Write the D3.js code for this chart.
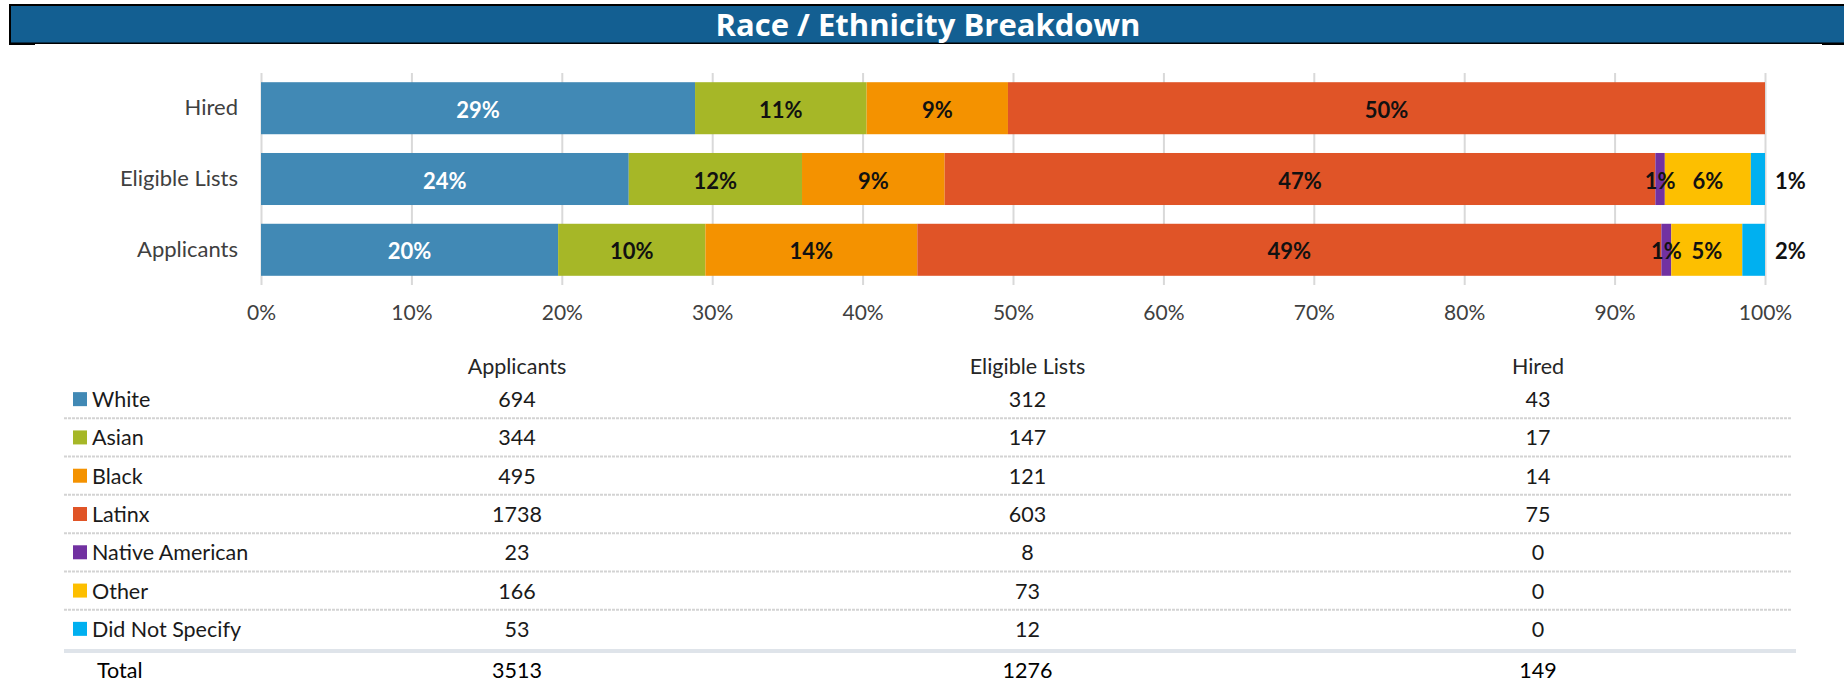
<!DOCTYPE html>
<html>
<head>
<meta charset="utf-8">
<script src="https://cdn.jsdelivr.net/npm/d3@7"></script>
<style>
  html, body { margin: 0; padding: 0; background: #ffffff; }
  svg { display: block; }
  text { font-family: Lato, "Open Sans", sans-serif; }
  text.title { font-family: "Open Sans", Lato, sans-serif; }
</style>
</head>
<body>
<svg id="chart" width="1844" height="684"></svg>
<script>
// Race / ethnicity counts per hiring stage
const groups = ["Applicants", "Eligible Lists", "Hired"];
const races = ["White", "Asian", "Black", "Latinx", "Native American", "Other", "Did Not Specify"];
const applicants = [694, 344, 495, 1738, 23, 166, 53];
const eligibleLists = [312, 147, 121, 603, 8, 73, 12];
const hired = [43, 17, 14, 75, 0, 0, 0];
const totals = [3513, 1276, 149];
const raceColors = ["#4189b5", "#a6b727", "#f49200", "#e05427", "#7131a1", "#fdbf00", "#00b0f0"];
const xTickValues = [0, 0.1, 0.2, 0.3, 0.4, 0.5, 0.6, 0.7, 0.8, 0.9, 1];

const counts = { "Applicants": applicants, "Eligible Lists": eligibleLists, "Hired": hired };
const totalBy = Object.fromEntries(groups.map((g, i) => [g, totals[i]]));

const svg = d3.select("#chart");

// ---- Title banner ----
const banner = svg.append("g");
banner.append("rect").attr("x", 9).attr("y", 4).attr("width", 1840).attr("height", 40).attr("fill", "#000");
banner.append("rect").attr("x", 11).attr("y", 6).attr("width", 1840).attr("height", 36.5).attr("fill", "#135f92");
banner.append("rect").attr("x", 9).attr("y", 43).attr("width", 26).attr("height", 2).attr("fill", "#000");
banner.append("rect").attr("x", 1822).attr("y", 43).attr("width", 22).attr("height", 2).attr("fill", "#000");
banner.append("text")
  .attr("class", "title")
  .attr("x", 928).attr("y", 24)
  .attr("text-anchor", "middle").attr("dominant-baseline", "central")
  .attr("fill", "#fff").attr("font-weight", 700).attr("font-size", 31)
  .text("Race / Ethnicity Breakdown");

// ---- Stacked 100% bars ----
const x = d3.scaleLinear().domain([0, 1]).range([261, 1765]);
const y = d3.scaleBand().domain(["Hired", "Eligible Lists", "Applicants"])
  .range([73, 285]).paddingInner(0.265).paddingOuter(0.13);

// gridlines
svg.append("g")
  .attr("transform", "translate(0,285)")
  .call(d3.axisBottom(x).tickValues(xTickValues).tickSize(-212).tickFormat(""))
  .call(g => g.select(".domain").remove())
  .call(g => g.selectAll(".tick line").attr("stroke", "#d9d9d9").attr("stroke-width", 2));

// tick labels
svg.append("g")
  .attr("transform", "translate(0,305)")
  .call(d3.axisBottom(x).tickValues(xTickValues).tickSize(0).tickPadding(0).tickFormat(d3.format(".0%")))
  .call(g => g.select(".domain").remove())
  .call(g => g.selectAll(".tick text")
    .attr("font-size", 21).attr("fill", "#404040"));

// category labels
svg.append("g")
  .attr("transform", "translate(238,0)")
  .call(d3.axisLeft(y).tickSize(0).tickPadding(0))
  .call(g => g.select(".domain").remove())
  .call(g => g.selectAll(".tick text")
    .attr("font-size", 22).attr("fill", "#404040"));

const stack = d3.stack().keys(d3.range(races.length)).value((g, k) => counts[g][k] / totalBy[g]);
const series = stack(groups);

const segLayer = svg.append("g");
series.forEach((s, k) => {
  segLayer.selectAll(null)
    .data(s.map((d, i) => ({ g: groups[i], x0: d[0], x1: d[1] })))
    .join("rect")
    .attr("x", d => x(d.x0))
    .attr("y", d => y(d.g))
    .attr("width", d => x(d.x1) - x(d.x0))
    .attr("height", y.bandwidth())
    .attr("fill", raceColors[k]);
});

const pct = d3.format(".0%");
const labelLayer = svg.append("g");
series.forEach((s, k) => {
  s.forEach((d, i) => {
    const v = d[1] - d[0];
    if (v <= 0) return;
    const g = groups[i];
    const outside = k === races.length - 1;
    labelLayer.append("text")
      .attr("x", outside ? x(1) + 10 : (x(d[0]) + x(d[1])) / 2)
      .attr("y", y(g) + y.bandwidth() / 2 + 1)
      .attr("text-anchor", outside ? "start" : "middle")
      .attr("dominant-baseline", "central")
      .attr("font-size", 22).attr("font-weight", 700)
      .attr("fill", k === 0 ? "#ffffff" : "#111111")
      .text(pct(v));
  });
});

// ---- Data table ----
const col = d3.scalePoint().domain(groups).range([517, 1538]);
const row = d3.scaleBand().domain(races).range([380, 648]);
const table = svg.append("g").attr("font-size", 21.5).attr("fill", "#1a1a1a");

table.selectAll(".hdr").data(groups).join("text")
  .attr("x", g => col(g)).attr("y", 366)
  .attr("text-anchor", "middle").attr("dominant-baseline", "central")
  .attr("fill", "#262626")
  .text(g => g);

// row separators
table.selectAll(".sep").data(races.slice(0, -1)).join("line")
  .attr("x1", 64).attr("x2", 1792)
  .attr("y1", r => row(r) + row.step()).attr("y2", r => row(r) + row.step())
  .attr("stroke", "#d3d3d3").attr("stroke-width", 2).attr("stroke-dasharray", "3 1");
table.append("line")
  .attr("x1", 64).attr("x2", 1796).attr("y1", 651).attr("y2", 651)
  .attr("stroke", "#dfe4ea").attr("stroke-width", 4);

races.forEach((r, k) => {
  const cy = row(r) + row.bandwidth() / 2;
  table.append("rect").attr("x", 73).attr("y", cy - 7).attr("width", 14).attr("height", 14)
    .attr("fill", raceColors[k]);
  table.append("text").attr("x", 92).attr("y", cy)
    .attr("dominant-baseline", "central").text(r);
  groups.forEach(g => {
    table.append("text").attr("x", col(g)).attr("y", cy)
      .attr("text-anchor", "middle").attr("dominant-baseline", "central")
      .text(counts[g][k]);
  });
});

table.append("text").attr("x", 97).attr("y", 670)
  .attr("dominant-baseline", "central").attr("fill", "#000").text("Total");
groups.forEach((g, i) => {
  table.append("text").attr("x", col(g)).attr("y", 670)
    .attr("text-anchor", "middle").attr("dominant-baseline", "central")
    .attr("fill", "#000").text(totals[i]);
});
</script>
</body>
</html>
